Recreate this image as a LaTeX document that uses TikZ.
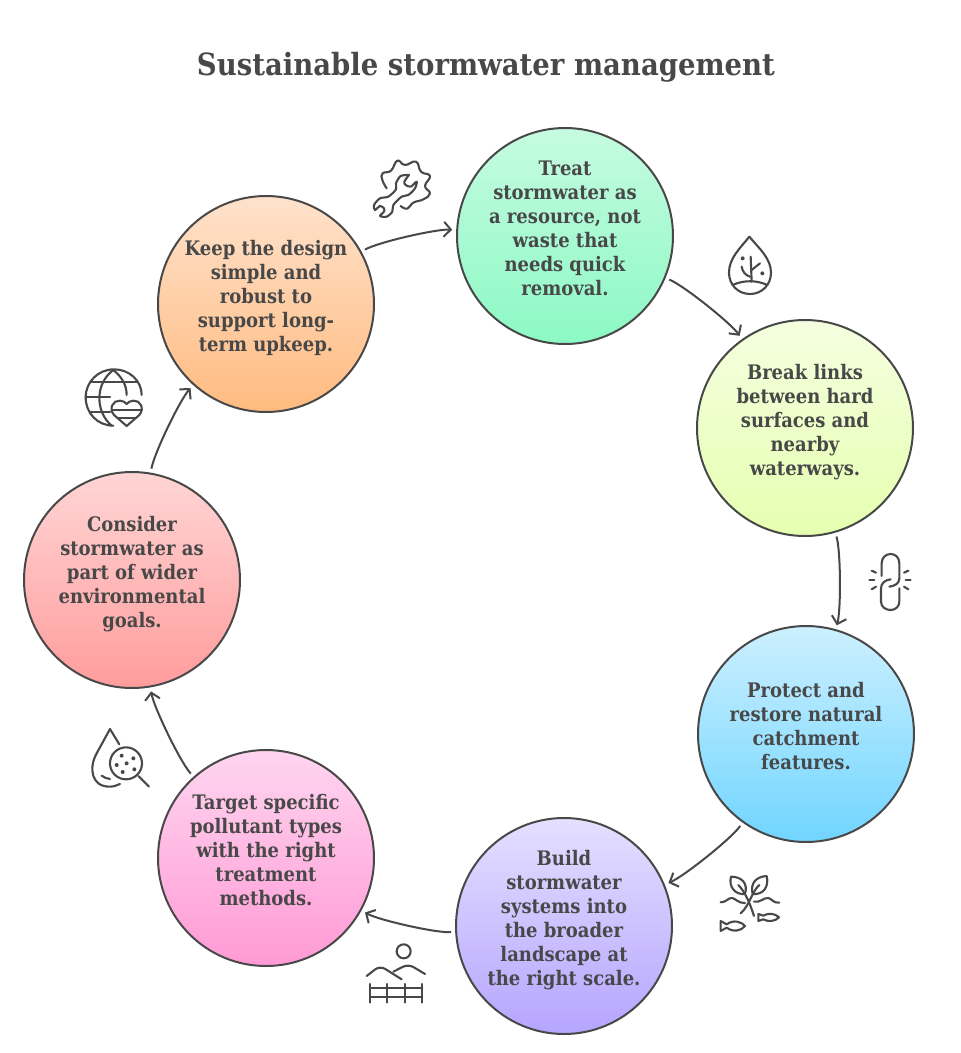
\documentclass[tikz,border=0pt]{standalone}
\usepackage{fontspec}
\setmainfont{DejaVu Serif Condensed}
\usetikzlibrary{arrows.meta,positioning}
\definecolor{ink}{HTML}{484848}
\definecolor{treattop}{HTML}{C6FBE0}
\definecolor{treatbot}{HTML}{8CF9C4}
\definecolor{linkstop}{HTML}{F5FFE0}
\definecolor{linksbot}{HTML}{E5FFB0}
\definecolor{protecttop}{HTML}{CDF0FF}
\definecolor{protectbot}{HTML}{70D5FF}
\definecolor{buildtop}{HTML}{E5DFFF}
\definecolor{buildbot}{HTML}{B5A5FF}
\definecolor{targettop}{HTML}{FFD5F0}
\definecolor{targetbot}{HTML}{FF9AD5}
\definecolor{widertop}{HTML}{FFD5D5}
\definecolor{widerbot}{HTML}{FF9C9C}
\definecolor{keeptop}{HTML}{FFE2CC}
\definecolor{keepbot}{HTML}{FFBB80}
\newcommand{\lifttext}{\\[-8pt]\mbox{}}
\tikzset{
	stage/.style={circle,draw=ink,line width=2pt,minimum size=216pt,inner sep=0pt,outer sep=5pt,align=center,text=ink,font=\fontsize{20}{24}\selectfont\bfseries},
	flow/.style={draw=ink,line width=2pt,looseness=0.45,-{Straight Barb[length=7pt,width=15pt]}},
	icon/.style={draw=ink,line width=2.1pt,line cap=round,line join=round},
	icondot/.style={fill=ink,draw=none}
}
\begin{document}
\begin{tikzpicture}[x=1pt,y=-1pt]
	\useasboundingbox (0,0) rectangle (961,1053);
	\node[text=ink,font=\fontsize{30.6}{36}\selectfont\bfseries] (title) at (486,67) {Sustainable stormwater management};

	\node[stage,top color=treattop,bottom color=treatbot] (treat) at (565,236) {Treat\\stormwater as\\a resource, not\\waste that\\needs quick\\removal.\lifttext};
	\node[stage,top color=linkstop,bottom color=linksbot] (links) at (805,428) {Break links\\between hard\\surfaces and\\nearby\\waterways.\lifttext};
	\node[stage,top color=protecttop,bottom color=protectbot] (protect) at (806,734) {Protect and\\restore natural\\catchment\\features.\lifttext};
	\node[stage,top color=buildtop,bottom color=buildbot] (build) at (564,926) {Build\\stormwater\\systems into\\the broader\\landscape at\\the right scale.\lifttext};
	\node[stage,top color=targettop,bottom color=targetbot] (target) at (266,858) {Target specific\\pollutant types\\with the right\\treatment\\methods.\lifttext};
	\node[stage,top color=widertop,bottom color=widerbot] (wider) at (132,580) {Consider\\stormwater as\\part of wider\\environmental\\goals.\lifttext};
	\node[stage,top color=keeptop,bottom color=keepbot] (keep) at (266,304) {Keep the design\\simple and\\robust to\\support long-\\term upkeep.\lifttext};

	\foreach \a/\b in {keep/treat,treat/links,links/protect,protect/build,build/target,target/wider,wider/keep}
		\draw[flow] (\a) to[bend left=16] (\b);

	\begin{scope}[shift={(360,130)},scale=0.3333,icon]
		\draw plot[smooth,tension=0.8] coordinates {(80,175) (67,150) (68,130) (93,122) (112,92) (135,105) (168,95) (183,125) (210,138) (195,168) (210,190) (190,208) (160,218) (142,236) (122,228)};
		\draw plot[smooth,tension=0.5] coordinates {(147,135) (122,138) (108,160) (108,178) (85,200) (60,205) (42,225) (45,240) (60,228) (72,235) (72,245) (60,258) (80,260) (97,245) (100,225) (125,200) (145,195) (165,175) (170,155) (152,170) (137,165) (133,155) (147,135)};
	\end{scope}

	\begin{scope}[shift={(660,220)},scale=0.3333,icon]
		\draw (268,50) .. controls (240,85) and (207,115) .. (207,158) .. controls (207,195) and (235,222) .. (270,222) .. controls (305,222) and (333,195) .. (333,158) .. controls (333,115) and (297,85) .. (268,50);
		\draw (218,195) .. controls (250,180) and (290,180) .. (322,195);
		\draw (275,185) -- (272,110);
		\draw (270,170) .. controls (255,165) and (248,155) .. (245,140);
		\draw (275,150) -- (300,130);
		\fill[icondot] (248,115) circle (6);
		\fill[icondot] (307,160) circle (6);
	\end{scope}

	\begin{scope}[shift={(820,530)},scale=0.3333,icon]
		\draw (185,138) -- (185,100) .. controls (185,82) and (198,72) .. (212,72) .. controls (226,72) and (238,82) .. (238,100) -- (238,145) .. controls (238,160) and (225,168) .. (208,170);
		\draw (238,175) -- (238,215) .. controls (238,230) and (226,240) .. (212,240) .. controls (196,240) and (183,230) .. (183,215) -- (183,175) .. controls (183,160) and (195,150) .. (212,148);
		\draw (155,122) -- (168,128);
		\draw (148,150) -- (163,150);
		\draw (155,178) -- (168,170);
		\draw (265,122) -- (252,128);
		\draw (272,150) -- (257,150);
		\draw (265,178) -- (252,170);
	\end{scope}

	\begin{scope}[shift={(670,820)},scale=0.3333,icon]
		\draw (183,170) .. controls (215,170) and (235,190) .. (225,222) .. controls (195,225) and (175,200) .. (183,170);
		\draw (290,168) .. controls (258,170) and (240,190) .. (248,222) .. controls (280,225) and (298,200) .. (290,168);
		\draw (205,195) .. controls (225,215) and (240,250) .. (252,288);
		\draw (268,195) .. controls (245,215) and (240,255) .. (212,280);
		\draw (152,247) .. controls (170,247) and (175,232) .. (187,234) .. controls (197,236) and (205,250) .. (225,249);
		\draw (252,245) .. controls (270,249) and (282,232) .. (295,234) .. controls (305,236) and (310,250) .. (328,248);
		\draw (152,303) -- (170,313) .. controls (190,298) and (215,305) .. (225,318) .. controls (215,332) and (190,338) .. (170,323) -- (152,333) -- cycle;
		\draw (265,282) -- (280,287) .. controls (295,278) and (315,280) .. (327,292) .. controls (315,305) and (295,306) .. (280,298) -- (265,303) -- cycle;
	\end{scope}

	\begin{scope}[shift={(355,900)},scale=0.3333,icon]
		\draw (146,154) circle (21);
		\draw[rounded corners=6pt] (35,228) -- (75,197) -- (140,238);
		\draw[rounded corners=6pt] (115,215) -- (160,192) -- (210,222);
		\foreach \x in {45,97,149,202}
			\draw (\x,252) -- (\x,308);
		\draw (45,265) -- (202,265);
		\draw (45,292) -- (202,292);
	\end{scope}

	\begin{scope}[shift={(80,690)},scale=0.3333,icon]
		\draw (118,163) -- (90,117) -- (50,190) .. controls (25,235) and (35,290) .. (88,290) .. controls (100,290) and (110,287) .. (120,282);
		\draw (65,257) .. controls (72,262) and (80,266) .. (90,267);
		\draw (138,220) circle (48);
		\draw (175,258) -- (207,290);
		\foreach \x/\y in {125/197,160/205,110/225,140/220,163/238,128/246}
			\fill[icondot] (\x,\y) circle (6);
	\end{scope}

	\begin{scope}[shift={(75,360)},scale=0.3333,icon]
		\draw (115,197) .. controls (68,197) and (32,160) .. (32,112) .. controls (32,65) and (70,28) .. (117,28) .. controls (163,28) and (200,62) .. (200,105);
		\draw (115,30) .. controls (60,70) and (60,155) .. (110,197);
		\draw (115,30) .. controls (140,50) and (155,75) .. (155,105);
		\draw (50,67) -- (185,67);
		\draw (32,110) -- (105,110);
		\draw (48,155) -- (105,155);
		\draw (155,198) -- (117,165) .. controls (100,145) and (115,120) .. (135,122) .. controls (145,122) and (150,127) .. (155,132) .. controls (160,127) and (165,122) .. (175,122) .. controls (195,120) and (210,145) .. (193,165) -- cycle;
		\draw (110,150) -- (200,150);
		\draw (130,173) -- (180,173);
	\end{scope}
\end{tikzpicture}
\end{document}
